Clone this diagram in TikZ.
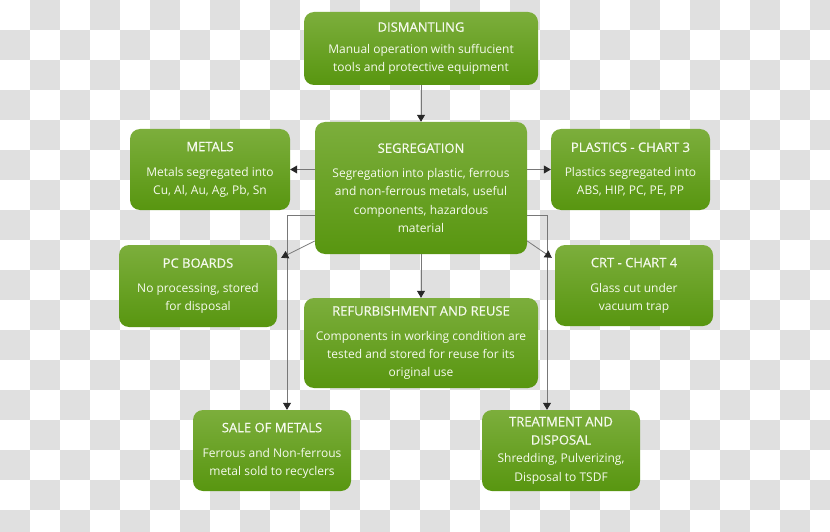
\documentclass[tikz,border=0pt]{standalone}
\usepackage{fontspec}
\setmainfont{Open Sans}
\newfontfamily\titlefont[FakeBold=0.6]{Open Sans}
\usetikzlibrary{arrows.meta,calc}
\definecolor{checkgray}{RGB}{224,224,224}
\definecolor{gtop}{RGB}{124,174,60}
\definecolor{gbot}{RGB}{88,150,16}
\definecolor{txt}{RGB}{246,250,238}
\definecolor{linec}{RGB}{120,120,120}
\definecolor{tipc}{RGB}{40,40,40}
\tikzset{
  box/.style={rounded corners=10pt, top color=gtop, bottom color=gbot, draw=none,
    text=txt, align=center, inner sep=0pt,
    font=\fontsize{12}{18.3}\selectfont},
  arr/.style={draw=linec, line width=0.8pt, -{Triangle[width=8pt,length=7pt,fill=tipc,color=tipc]}},
}
\newcommand{\ttl}[2][6.5pt]{{\titlefont\fontsize{13}{18.5}\selectfont #2}\\[#1]}
\newcommand{\ttlb}[1]{{\titlefont\fontsize{13}{18}\selectfont #1}}
\begin{document}
\begin{tikzpicture}[x=1pt,y=-1pt]
\useasboundingbox (0,0) rectangle (830,532);
\fill[white] (0,0) rectangle (830,532);
\foreach \i in {0,...,27}{
  \foreach \j in {0,...,17}{
    \pgfmathtruncatemacro{\pp}{mod(\i+\j,2)}
    \ifnum\pp=1
      \fill[checkgray] (\i*30,\j*30) rectangle ++(30,30);
    \fi
  }
}
\node[box, minimum width=234pt, minimum height=73pt] (dis) at (421,48.5)
  {\ttl[3.5pt]{DISMANTLING}Manual operation with suffucient\\tools and protective equipment};
\node[box, minimum width=212pt, minimum height=132pt] (seg) at (421,188)
  {\ttl{SEGREGATION}Segregation into plastic, ferrous\\and non-ferrous metals, useful\\components, hazardous\\material};
\node[box, minimum width=160pt, minimum height=81pt] (met) at (210,169.5)
  {\ttl{METALS}Metals segregated into\\Cu, Al, Au, Ag, Pb, Sn};
\node[box, minimum width=159pt, minimum height=81pt] (pla) at (630.5,169.5)
  {\ttl{PLASTICS - CHART 3}Plastics segregated into\\ABS, HIP, PC, PE, PP};
\node[box, minimum width=158pt, minimum height=82pt] (pcb) at (198,286)
  {\ttl{PC BOARDS}No processing, stored\\for disposal};
\node[box, minimum width=158pt, minimum height=81pt] (crt) at (634,285.5)
  {\ttl{CRT - CHART 4}Glass cut under\\vacuum trap};
\node[box, minimum width=234pt, minimum height=90pt] (ref) at (421,343)
  {\ttl{REFURBISHMENT AND REUSE}Components in working condition are\\tested and stored for reuse for its\\original use};
\node[box, minimum width=158pt, minimum height=81pt] (sale) at (272,450.5)
  {\ttl{SALE OF METALS}Ferrous and Non-ferrous\\metal sold to recyclers};
\node[box, minimum width=158pt, minimum height=81pt] (tre) at (561,450.5)
  {\ttlb{TREATMENT AND}\\\ttlb{DISPOSAL}\\Shredding, Pulverizing,\\Disposal to TSDF};
% connectors
\draw[arr] (dis) -- (seg);
\draw[arr] (seg) -- (ref);
\draw[arr] (seg.west |- met.east) -- (met.east);
\draw[arr] (seg.east |- pla.west) -- (pla.west);
\coordinate (lb) at (287,215);
\coordinate (rb) at (547,215);
\draw[arr] (seg.west |- lb) -- (lb) -- (lb |- sale.north);
\draw[arr] (seg.east |- rb) -- (rb) -- (rb |- tre.north);
\draw[arr] ($(seg.west)+(0,53)$) -- ($(pcb.north east)+(4,13)$);
\draw[arr] ($(seg.east)+(0,53)$) -- ($(crt.north west)+(-3,13)$);
\end{tikzpicture}
\end{document}
